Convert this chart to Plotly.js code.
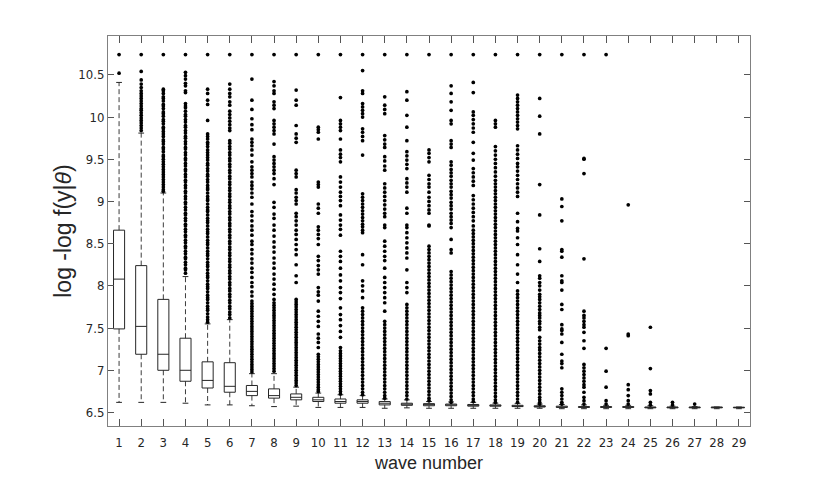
<!DOCTYPE html>
<html>
<head>
<meta charset="utf-8">
<script src="https://cdn.plot.ly/plotly-3.0.1.min.js"></script>
<style>html,body{margin:0;padding:0;background:#fff;}#chart{width:830px;height:485px;}</style>
</head>
<body>
<div id="chart"></div>
<script>
const waves = [1,2,3,4,5,6,7,8,9,10,11,12,13,14,15,16,17,18,19,20,21,22,23,24,25,26,27,28,29];
const q1  = [7.49,7.19,7.00,6.87,6.79,6.74,6.70,6.67,6.65,6.63,6.61,6.61,6.59,6.585,6.58,6.58,6.575,6.575,6.57,6.565,6.56,6.56,6.56,6.56,6.555,6.555,6.555,6.555,6.555];
const med = [8.08,7.52,7.19,7.00,6.88,6.81,6.75,6.70,6.68,6.65,6.63,6.63,6.61,6.60,6.595,6.59,6.585,6.58,6.575,6.57,6.565,6.565,6.565,6.565,6.56,6.56,6.56,6.56,6.56];
const q3  = [8.66,8.24,7.84,7.38,7.10,7.09,6.82,6.78,6.72,6.68,6.66,6.65,6.63,6.61,6.605,6.60,6.595,6.59,6.585,6.58,6.575,6.57,6.57,6.57,6.565,6.565,6.565,6.565,6.562];
const lowW  = [6.62,6.62,6.62,6.61,6.59,6.59,6.58,6.57,6.575,6.56,6.56,6.56,6.55,6.555,6.55,6.55,6.55,6.55,6.55,6.55,6.545,6.545,6.545,6.545,6.545,6.545,6.545,6.545,6.545];
const highW = [10.41,9.81,9.10,8.11,7.55,7.60,6.96,6.96,6.80,6.73,6.71,6.70,6.66,6.65,6.63,6.625,6.62,6.61,6.605,6.60,6.595,6.59,6.585,6.585,6.58,6.575,6.57,6.565,6.565];
const tickVals = [6.5,7,7.5,8,8.5,9,9.5,10,10.5];
const tickText = ["6.5","7","7.5","8","8.5","9","9.5","10","10.5"];

const out1 = [10.74,10.52];
const out2 = [10.74,10.54,10.44,10.39,10.35,10.31,10.28,10.25,10.22,10.19,10.16,10.13,10.10,10.08,10.05,10.02,9.99,9.96,9.93,9.90,9.87,9.84];
const out3 = [10.74,10.33,10.31,10.28,10.24,10.22,10.19,10.15,10.13,10.10,10.06,10.04,10.01,9.97,9.95,9.92,9.88,9.86,9.83,9.80,9.77,9.73,9.71,9.68,9.64,9.62,9.59,9.55,9.53,9.50,9.47,9.44,9.41,9.38,9.35,9.32,9.29,9.26,9.23,9.20,9.17,9.14,9.12];
const out4 = [10.74,10.53,10.49,10.45,10.40,10.37,10.31,10.29,10.16,10.13,10.11,10.07,10.03,10.01,9.97,9.94,9.90,9.88,9.84,9.81,9.77,9.75,9.71,9.68,9.64,9.62,9.58,9.55,9.51,9.49,9.45,9.42,9.38,9.36,9.32,9.29,9.25,9.23,9.19,9.16,9.12,9.10,9.06,9.03,8.99,8.97,8.93,8.90,8.86,8.84,8.80,8.77,8.73,8.71,8.67,8.64,8.60,8.58,8.54,8.51,8.47,8.45,8.41,8.38,8.34,8.32,8.28,8.25,8.21,8.19,8.15];
const out5 = [10.74,10.33,10.28,10.20,10.15,9.96,9.80,9.77,9.74,9.70,9.68,9.65,9.61,9.58,9.55,9.52,9.49,9.45,9.43,9.39,9.36,9.32,9.30,9.26,9.23,9.19,9.16,9.14,9.10,9.06,9.03,9.01,8.97,8.93,8.90,8.88,8.84,8.80,8.77,8.75,8.71,8.67,8.64,8.62,8.58,8.54,8.51,8.49,8.45,8.41,8.38,8.36,8.32,8.28,8.25,8.23,8.19,8.15,8.12,8.10,8.06,8.02,7.99,7.97,7.93,7.89,7.86,7.84,7.80,7.76,7.73,7.71,7.67,7.63,7.60,7.57];
const out6 = [10.74,10.39,10.33,10.28,10.24,10.18,10.14,10.07,10.03,9.99,9.95,9.91,9.87,9.84,9.72,9.69,9.65,9.62,9.58,9.55,9.51,9.48,9.44,9.41,9.37,9.34,9.30,9.27,9.23,9.20,9.16,9.13,9.09,9.06,9.02,8.99,8.95,8.92,8.88,8.85,8.81,8.78,8.74,8.71,8.67,8.64,8.60,8.57,8.53,8.50,8.46,8.43,8.39,8.36,8.32,8.29,8.25,8.22,8.18,8.15,8.11,8.08,8.04,8.01,7.97,7.94,7.90,7.87,7.83,7.80,7.76,7.73,7.69,7.66,7.62];
const out7 = [10.74,10.45,10.20,10.09,9.98,9.91,9.85,9.74,9.70,9.66,9.61,9.55,9.47,9.41,9.37,9.33,9.29,9.23,9.19,9.15,9.10,9.05,8.97,8.88,8.83,8.77,8.71,8.66,8.60,8.53,8.49,8.43,8.38,8.32,8.27,8.21,8.16,8.10,8.04,7.99,7.93,7.88,7.82,7.79,7.76,7.73,7.70,7.67,7.64,7.61,7.58,7.55,7.52,7.49,7.46,7.43,7.40,7.37,7.34,7.31,7.28,7.25,7.22,7.19,7.16,7.13,7.10,7.07,7.04,7.01,6.98];
const out8 = [10.74,10.42,10.37,10.31,10.28,10.18,10.14,10.10,9.96,9.92,9.88,9.84,9.80,9.68,9.53,9.49,9.45,9.41,9.37,9.33,9.27,9.20,8.99,8.93,8.85,8.80,8.72,8.66,8.59,8.52,8.46,8.40,8.33,8.27,8.21,8.14,8.08,8.02,7.96,7.90,7.84,7.80,7.77,7.74,7.71,7.68,7.65,7.62,7.59,7.56,7.53,7.50,7.47,7.44,7.41,7.38,7.35,7.32,7.29,7.26,7.23,7.20,7.17,7.14,7.11,7.08,7.05,7.02,6.99];
const out9 = [10.74,10.32,10.20,10.14,9.90,9.80,9.75,9.70,9.37,9.33,9.29,9.14,9.10,9.05,9.01,8.97,8.86,8.82,8.77,8.72,8.66,8.61,8.55,8.49,8.43,8.37,8.25,8.12,8.04,7.84,7.81,7.78,7.75,7.72,7.69,7.66,7.63,7.60,7.57,7.54,7.51,7.48,7.45,7.42,7.39,7.36,7.33,7.30,7.27,7.24,7.21,7.18,7.15,7.12,7.09,7.06,7.03,7.00,6.97,6.94,6.91,6.88,6.85,6.82];
const out10 = [10.74,9.88,9.85,9.82,9.74,9.23,9.20,9.17,8.97,8.92,8.86,8.70,8.66,8.61,8.56,8.49,8.35,8.30,8.24,8.19,8.14,7.98,7.93,7.89,7.82,7.70,7.64,7.58,7.52,7.43,7.38,7.33,7.27,7.19,7.16,7.13,7.10,7.07,7.04,7.01,6.98,6.95,6.92,6.89,6.86,6.83,6.80,6.77,6.75];
const out11 = [10.74,10.23,9.96,9.92,9.88,9.84,9.74,9.61,9.56,9.52,9.47,9.29,9.23,9.17,9.11,9.06,9.01,8.95,8.84,8.78,8.72,8.67,8.60,8.41,8.35,8.29,8.21,8.13,8.06,7.98,7.92,7.85,7.74,7.66,7.60,7.53,7.46,7.39,7.27,7.23,7.20,7.17,7.14,7.11,7.08,7.05,7.02,6.99,6.96,6.93,6.90,6.87,6.84,6.81,6.78,6.75,6.72];
const out12 = [10.74,10.55,10.31,10.28,10.16,10.12,10.08,10.04,10.00,9.86,9.82,9.77,9.72,9.55,9.09,9.05,9.01,8.97,8.93,8.89,8.85,8.81,8.77,8.73,8.70,8.66,8.63,8.37,8.25,8.06,8.00,7.94,7.86,7.74,7.70,7.66,7.62,7.58,7.54,7.50,7.46,7.42,7.38,7.34,7.30,7.26,7.22,7.18,7.14,7.10,7.06,7.02,6.98,6.94,6.90,6.86,6.82,6.78,6.74,6.71];
const out13 = [10.74,10.24,10.14,10.09,10.04,9.78,9.73,9.68,9.64,9.53,9.48,9.42,9.37,9.21,9.16,9.11,9.06,9.01,8.96,8.91,8.86,8.82,8.72,8.69,8.53,8.47,8.41,8.35,8.30,8.21,8.10,8.04,7.98,7.92,7.86,7.80,7.70,7.58,7.54,7.50,7.46,7.42,7.38,7.34,7.30,7.26,7.22,7.18,7.14,7.10,7.06,7.02,6.98,6.94,6.90,6.86,6.82,6.78,6.74,6.70,6.67];
const out14 = [10.74,10.30,10.20,10.02,9.88,9.72,9.59,9.54,9.49,9.44,9.39,9.27,9.22,9.17,9.11,8.92,8.86,8.72,8.69,8.63,8.57,8.51,8.45,8.39,8.33,8.19,8.04,7.98,7.92,7.78,7.74,7.70,7.66,7.62,7.58,7.54,7.50,7.46,7.42,7.38,7.34,7.30,7.26,7.22,7.18,7.14,7.10,7.06,7.02,6.98,6.94,6.90,6.86,6.82,6.78,6.74,6.70,6.66];
const out15 = [10.74,9.61,9.57,9.52,9.47,9.31,9.26,9.21,9.17,9.11,9.05,9.00,8.95,8.90,8.86,8.72,8.71,8.47,8.43,8.39,8.35,8.31,8.27,8.23,8.19,8.15,8.11,8.07,8.03,7.99,7.95,7.91,7.87,7.83,7.79,7.75,7.71,7.67,7.63,7.59,7.55,7.51,7.47,7.43,7.39,7.35,7.31,7.27,7.23,7.19,7.15,7.11,7.07,7.03,6.99,6.95,6.91,6.87,6.83,6.79,6.75,6.71,6.67,6.64];
const out16 = [10.74,10.37,10.28,10.18,10.08,9.96,9.92,9.72,9.68,9.64,9.47,9.43,9.38,9.34,9.30,9.25,9.21,9.17,9.12,9.08,9.04,8.99,8.95,8.91,8.86,8.82,8.78,8.74,8.69,8.55,8.43,8.39,8.17,8.13,8.09,8.05,8.01,7.97,7.93,7.89,7.85,7.81,7.77,7.73,7.69,7.65,7.61,7.57,7.53,7.49,7.45,7.41,7.37,7.33,7.29,7.25,7.21,7.17,7.13,7.09,7.05,7.01,6.97,6.93,6.89,6.85,6.81,6.77,6.73,6.69,6.65,6.62];
const out17 = [10.74,10.41,10.29,10.06,10.02,9.97,9.92,9.87,9.82,9.70,9.57,9.49,9.39,9.34,9.29,9.24,9.19,9.07,9.02,8.97,8.92,8.87,8.82,8.77,8.71,8.66,8.62,8.58,8.54,8.50,8.46,8.42,8.38,8.34,8.30,8.26,8.22,8.18,8.14,8.10,8.06,8.02,7.98,7.94,7.90,7.86,7.82,7.78,7.74,7.70,7.66,7.62,7.58,7.54,7.50,7.46,7.42,7.38,7.34,7.30,7.26,7.22,7.18,7.14,7.10,7.06,7.02,6.98,6.94,6.90,6.86,6.82,6.78,6.74,6.70,6.66,6.63];
const out18 = [10.74,9.96,9.92,9.88,9.65,9.60,9.55,9.50,9.45,9.40,9.35,9.30,9.25,9.21,9.17,9.13,9.09,9.05,9.01,8.97,8.93,8.89,8.85,8.81,8.77,8.73,8.69,8.65,8.61,8.57,8.53,8.49,8.45,8.41,8.37,8.33,8.29,8.25,8.21,8.17,8.13,8.09,8.05,8.01,7.97,7.93,7.89,7.85,7.81,7.77,7.73,7.69,7.65,7.61,7.57,7.53,7.49,7.45,7.41,7.37,7.33,7.29,7.25,7.21,7.17,7.13,7.09,7.05,7.01,6.97,6.93,6.89,6.85,6.81,6.77,6.73,6.69,6.65,6.62];
const out19 = [10.74,10.26,10.22,10.18,10.14,10.10,10.06,10.02,9.98,9.94,9.90,9.86,9.66,9.61,9.56,9.51,9.45,9.41,9.36,9.31,9.26,9.21,9.16,9.11,9.06,8.86,8.76,8.68,8.65,8.57,8.49,8.37,8.25,8.14,8.04,7.94,7.90,7.86,7.82,7.78,7.74,7.70,7.66,7.62,7.58,7.54,7.50,7.46,7.42,7.38,7.34,7.30,7.26,7.22,7.18,7.14,7.10,7.06,7.02,6.98,6.94,6.90,6.86,6.82,6.78,6.74,6.70,6.66,6.62];
const out20 = [10.74,10.22,10.01,9.80,9.20,8.84,8.44,8.29,8.12,8.09,8.04,8.00,7.95,7.90,7.87,7.84,7.80,7.76,7.72,7.68,7.65,7.62,7.58,7.55,7.51,7.48,7.39,7.35,7.31,7.27,7.24,7.20,7.16,7.12,7.08,7.04,7.00,6.96,6.92,6.88,6.84,6.80,6.76,6.72,6.68,6.65,6.62,6.60];
const out21 = [10.74,9.03,8.94,8.77,8.43,8.41,8.34,8.12,8.06,8.04,7.95,7.78,7.72,7.54,7.49,7.47,7.43,7.33,7.19,7.11,7.08,7.03,6.78,6.74,6.70,6.66,6.62,6.60];
const out22 = [10.74,9.51,9.50,9.33,8.32,7.70,7.65,7.62,7.58,7.54,7.51,7.45,7.35,7.26,7.07,7.03,6.99,6.95,6.91,6.87,6.83,6.80,6.74,6.68,6.64,6.60];
const out23 = [10.74,7.26,6.99,6.80,6.64,6.60];
const out24 = [8.96,7.43,7.41,6.83,6.77,6.70,6.64,6.60];
const out25 = [7.51,7.02,6.76,6.72,6.62,6.59];
const out26 = [6.62,6.59];
const out27 = [6.60];
const out28 = [];
const out29 = [];
const outliers = [out1,out2,out3,out4,out5,out6,out7,out8,out9,out10,out11,out12,out13,out14,out15,out16,out17,out18,out19,out20,out21,out22,out23,out24,out25,out26,out27,out28,out29];

const dark = '#262626';
const capHalf = 0.13;

// Boxes (no whiskers: fences at quartiles)
const boxTrace = {
  type: 'box', x: waves, q1: q1, median: med, q3: q3,
  lowerfence: q1, upperfence: q3,
  width: 0.5, whiskerwidth: 0,
  fillcolor: 'rgba(255,255,255,0)',
  line: {color: dark, width: 1},
  boxpoints: false, showlegend: false, hoverinfo: 'skip'
};

// Dashed whiskers
const wx = [], wy = [];
waves.forEach((w, i) => {
  wx.push(w, w, null, w, w, null);
  wy.push(q3[i], highW[i], null, q1[i], lowW[i], null);
});
const whiskerTrace = {
  type: 'scatter', mode: 'lines', x: wx, y: wy,
  line: {color: dark, width: 0.9, dash: '5px,3px'},
  showlegend: false, hoverinfo: 'skip'
};

// Whisker caps
const cx = [], cy = [];
waves.forEach((w, i) => {
  cx.push(w - capHalf, w + capHalf, null, w - capHalf, w + capHalf, null);
  cy.push(highW[i], highW[i], null, lowW[i], lowW[i], null);
});
const capTrace = {
  type: 'scatter', mode: 'lines', x: cx, y: cy,
  line: {color: dark, width: 1},
  showlegend: false, hoverinfo: 'skip'
};

// Outliers
const ox = [], oy = [];
outliers.forEach((arr, i) => {
  arr.forEach(v => { ox.push(waves[i]); oy.push(v); });
});
const outTrace = {
  type: 'scatter', mode: 'markers', x: ox, y: oy,
  marker: {color: '#000', size: 3.7},
  showlegend: false, hoverinfo: 'skip'
};

const narrow = '"Liberation Sans Narrow", "Arial Narrow", "DejaVu Sans Condensed", sans-serif';
const layout = {
  width: 830, height: 485,
  margin: {l: 108, r: 80, t: 36, b: 59},
  paper_bgcolor: '#fff', plot_bgcolor: '#fff',
  showlegend: false,
  xaxis: {
    range: [0.5, 29.5], tickvals: waves, ticktext: waves.map(String),
    ticks: 'inside', ticklen: 7, tickwidth: 1, tickcolor: '#555',
    showline: true, linecolor: '#808080', linewidth: 1, mirror: 'ticks',
    showgrid: false, zeroline: false,
    tickfont: {family: narrow, size: 13, color: dark},
    ticklabelstandoff: 4,
    title: {text: 'wave number', font: {family: '"Liberation Sans", Arial, sans-serif', size: 18, color: dark}, standoff: 7}
  },
  yaxis: {
    range: [6.34, 10.96], tickvals: tickVals, ticktext: tickText,
    ticks: 'inside', ticklen: 6, tickwidth: 1, tickcolor: '#555',
    showline: true, linecolor: '#808080', linewidth: 1, mirror: 'ticks',
    showgrid: false, zeroline: false,
    tickfont: {family: narrow, size: 13, color: dark},
    title: {text: 'log -log f(y|<i>θ</i>)', font: {family: '"Liberation Sans", Arial, sans-serif', size: 23, color: dark}, standoff: 0}
  }
};

Plotly.newPlot('chart', [boxTrace, whiskerTrace, capTrace, outTrace], layout, {staticPlot: true, displayModeBar: false});
</script>
</body>
</html>
